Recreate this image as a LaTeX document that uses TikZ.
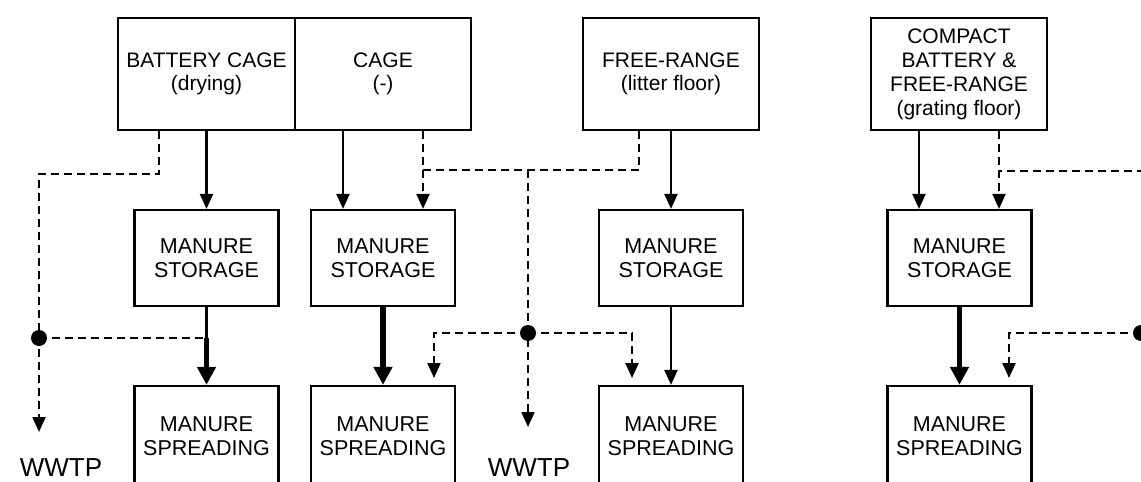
\documentclass[tikz,border=0pt]{standalone}
\usepackage{fontspec}
\setmainfont{Liberation Sans}
\usetikzlibrary{arrows.meta}
\begin{document}
\begin{tikzpicture}[x=1pt,y=-1pt,
  box/.style={draw,line width=2.2pt,align=center,inner sep=0pt},
  topbox/.style={box,minimum height=112pt,font=\fontsize{21}{23.5}\selectfont},
  lowbox/.style={box,minimum width=144pt,minimum height=96pt,font=\fontsize{21.5}{23.5}\selectfont},
  spbox/.style={lowbox,minimum height=100pt},
  ln/.style={line width=2.2pt},
  arr/.style={ln,-{Triangle[width=13pt,length=15pt]}},
  thk/.style={line width=5.5pt,-{Triangle[width=18pt,length=18pt]}},
  dsh/.style={ln,dash pattern=on 8pt off 5pt},
  darr/.style={dsh,-{Triangle[width=13pt,length=15pt]}},
  dot/.style={circle,fill,inner sep=0pt,minimum size=16pt},
  lbl/.style={font=\fontsize{26}{28}\selectfont,anchor=base,inner sep=0pt}]
\useasboundingbox (0,0) rectangle (1141,482);
\clip (0,0) rectangle (1141,482);

% top boxes
\node[topbox,minimum width=177pt] (bat) at (206.5,74) {BATTERY CAGE\\(drying)};
\node[topbox,minimum width=176pt] (cage) at (383,74) {CAGE\\(-)};
\node[topbox,minimum width=176pt] (free) at (671,74) {FREE-RANGE\\(litter floor)};
\node[topbox,minimum width=176pt,font=\fontsize{21}{24}\selectfont] (comp) at (959,74) {COMPACT\\BATTERY \&\\FREE-RANGE\\(grating floor)};

% storage boxes
\node[lowbox] (st1) at (206.5,258) {MANURE\\STORAGE};
\node[lowbox] (st2) at (383,258) {MANURE\\STORAGE};
\node[lowbox] (st3) at (671,258) {MANURE\\STORAGE};
\node[lowbox] (st4) at (959.5,258) {MANURE\\STORAGE};

% spreading boxes
\node[spbox] (sp1) at (206.5,436) {MANURE\\SPREADING};
\node[spbox] (sp2) at (383,436) {MANURE\\SPREADING};
\node[spbox] (sp3) at (671,436) {MANURE\\SPREADING};
\node[spbox] (sp4) at (959.5,436) {MANURE\\SPREADING};

% labels
\node[lbl] (wwtp1) at (61,476) {WWTP};
\node[lbl] (wwtp2) at (529,476) {WWTP};

% junction coordinates
\coordinate (w1) at (39,432);
\coordinate (j1) at (206.5,338);
\coordinate (m1) at (423,170);
\coordinate (m2) at (528,170);
\coordinate (w2) at (528,427);
\coordinate (a2) at (434,378);
\coordinate (a3) at (632,378);
\coordinate (a4) at (1009,378);
\coordinate (e1) at (1145,171);

% left column
\draw[arr] (bat) -- (st1);
\draw[ln] (st1) -- (j1);
\draw[thk] (j1) -- (sp1);
\draw[darr] ([xshift=-47.5pt]bat.south) -- ++(0,43) -| (w1);
\node[dot] (d1) at (39,338) {};
\draw[dsh] (d1.center) -- (j1);

% cage column
\draw[arr] ([xshift=-40pt]cage.south) -- ([xshift=-40pt]st2.north);
\draw[darr] ([xshift=40pt]cage.south) -- ([xshift=40pt]st2.north);
\draw[thk] (st2) -- (sp2);

% free-range column
\draw[dsh] ([xshift=-32pt]free.south) |- (m1);
\draw[darr] (m2) -- (w2);
\node[dot] (d2) at (528,333) {};
\draw[darr] (d2.center) -| (a2);
\draw[darr] (d2.center) -| (a3);
\draw[arr] (free) -- (st3);
\draw[arr] (st3) -- (sp3);

% compact column
\draw[arr] ([xshift=-40pt]comp.south) -- ([xshift=-40.5pt]st4.north);
\draw[darr] ([xshift=40pt]comp.south) -- ([xshift=39.5pt]st4.north);
\draw[dsh] (e1) -- ([xshift=40pt]comp.south |- e1);
\draw[thk] (st4) -- (sp4);
\node[dot] (d3) at (1141,333) {};
\draw[darr] (d3.center) -| (a4);
\end{tikzpicture}
\end{document}
